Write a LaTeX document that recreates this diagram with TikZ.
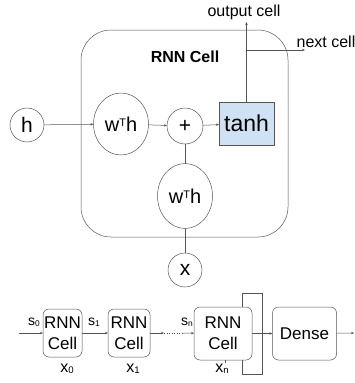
\documentclass[tikz,border=0pt]{standalone}
\usepackage{fontspec}
\setmainfont{Liberation Sans}
\usetikzlibrary{shapes.geometric,arrows.meta}
\definecolor{ln}{HTML}{555555}
\definecolor{tanhfill}{HTML}{CFE2F3}
\newcommand{\wth}{w\raisebox{0.45ex}{\scalebox{0.55}{T}}h}
\newcommand{\lowsub}[1]{\raisebox{-0.1ex}{\scalebox{0.6}{#1}}}
\begin{document}
\begin{tikzpicture}[x=1pt,y=-1pt,
  every node/.style={inner sep=0pt,outer sep=0pt},
  conn/.style={draw=ln,line width=0.5pt},
  arr/.style={conn,-{Stealth[length=3pt,width=2.5pt]}},
  circ/.style={circle,draw=ln,line width=0.5pt,fill=white,font=\fontsize{21}{21}\selectfont},
  ell/.style={ellipse,draw=ln,line width=0.5pt,fill=white,font=\fontsize{20}{20}\selectfont},
  cellbox/.style={rectangle,rounded corners=6pt,draw=ln,line width=0.5pt,fill=white,align=center,font=\fontsize{17}{21}\selectfont},
  lbl/.style={font=\fontsize{16}{16}\selectfont},
  slbl/.style={font=\fontsize{14}{14}\selectfont},
  xlbl/.style={font=\fontsize{16}{16}\selectfont}]
\useasboundingbox (0,0) rectangle (355,383);
% top big cell
\draw[draw=ln,line width=0.5pt,rounded corners=30pt] (81,30) rectangle (288,237);
\node[font=\bfseries\fontsize{16}{16}\selectfont] (title) at (185,57) {RNN Cell};
\node[circ,minimum size=34pt] (h) at (27,125) {h};
\node[ell,minimum width=55pt,minimum height=62pt] (w1) at (121,124) {\wth};
\node[circ,minimum size=36pt] (plus) at (185,126) {+};
\node[rectangle,draw=ln,line width=0.5pt,fill=tanhfill,minimum width=55pt,minimum height=43pt,font=\fontsize{23}{23}\selectfont] (tanh) at (246.5,123.5) {tanh};
\node[ell,minimum width=55pt,minimum height=65pt] (w2) at (185,196) {\wth};
\node[circ,minimum size=34pt] (x) at (185,270) {x};
\node[lbl] (outl) at (244,12) {output cell};
\node[lbl] (nextl) at (326,42) {next cell};
\coordinate (outc) at (246.5,22);
\coordinate (br) at (246.5,50);
\coordinate (nc) at (305,50);
\draw[arr] (h) -- (w1);
\draw[arr] (w1) -- (plus);
\draw[arr] (plus) -- (tanh);
\draw[conn] (w2) -- (plus);
\draw[conn] (x) -- (w2);
\draw[arr] (tanh) -- (outc);
\draw[arr] (br) -- (nc);
% bottom chain
\draw[draw=ln,line width=0.5pt] (242,293) rectangle (262,374);
\node[cellbox,minimum width=39pt,minimum height=48pt] (c1) at (62.5,333) {RNN\\Cell};
\node[cellbox,minimum width=42pt,minimum height=48pt] (c2) at (129,333) {RNN\\Cell};
\node[cellbox,minimum width=58pt,minimum height=53pt] (c3) at (223,333.5) {RNN\\Cell};
\node[cellbox,minimum width=64pt,minimum height=53pt,font=\fontsize{17}{17}\selectfont] (dense) at (304.5,333.5) {Dense};
\coordinate (in0) at (19,333);
\coordinate (d1) at (164,333);
\coordinate (d2) at (182,333);
\coordinate (outd) at (354,333);
\draw[arr] (in0) -- (c1);
\draw[arr] (c1) -- (c2);
\draw[arr] (c2) -- (d1);
\draw[conn,dotted,line width=1pt] (d1) -- (d2);
\draw[arr] (d2) -- (c3);
\draw[arr] (c3) -- (dense);
\draw[arr] (dense) -- (outd);
\node[slbl] (s0) at (34,322) {s\lowsub{0}};
\node[slbl] (s1) at (94,322) {s\lowsub{1}};
\node[slbl] (sn) at (187,322) {s\lowsub{n}};
\node[xlbl] (x0) at (67,369) {x\lowsub{0}};
\node[xlbl] (x1) at (133,369) {x\lowsub{1}};
\node[xlbl] (xn) at (222,369) {x\lowsub{n}};
\coordinate (xnt) at (225,363);
\draw[conn] (xnt) -- (xnt |- c3.south);
\end{tikzpicture}
\end{document}
